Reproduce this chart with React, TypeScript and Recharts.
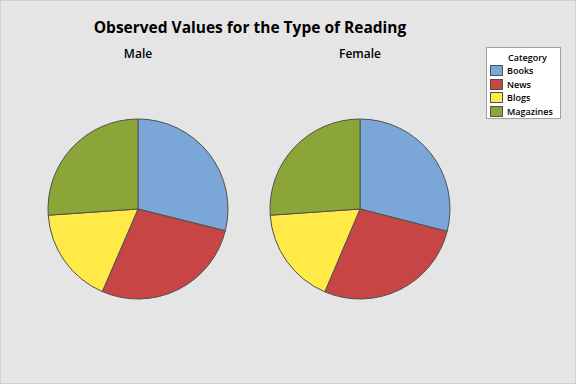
import { PieChart, Pie, Cell, Legend } from 'recharts'

const CATEGORIES = ['Books', 'News', 'Blogs', 'Magazines']
const MALE_VALUES = [28.9, 27.6, 17.4, 26.1]
const FEMALE_VALUES = [29.0, 27.4, 17.5, 26.1]
const COLORS = ['#7BA6D8', '#C84545', '#FFEA47', '#8BA539']

const maleData = CATEGORIES.map((name, i) => ({ name, value: MALE_VALUES[i] }))
const femaleData = CATEGORIES.map((name, i) => ({ name, value: FEMALE_VALUES[i] }))

const FONT = '"Segoe UI", "Open Sans", "Noto Sans", sans-serif'

function CategoryLegend() {
  return (
    <div
      style={{
        width: 75,
        height: 72,
        border: '1px solid #a0a0a0',
        background: '#ffffff',
        fontFamily: FONT,
        fontSize: 9,
        color: '#000',
        boxSizing: 'border-box',
        paddingTop: 3,
      }}
    >
      <div style={{ textAlign: 'center', paddingLeft: 8, lineHeight: '13px', fontWeight: 600 }}>Category</div>
      {CATEGORIES.map((c, i) => (
        <div key={c} style={{ display: 'flex', alignItems: 'center', height: 13.5, paddingLeft: 3 }}>
          <span
            style={{
              display: 'inline-block',
              width: 11,
              height: 9,
              background: COLORS[i],
              border: '1px solid #505050',
              marginRight: 4,
            }}
          />
          <span style={{ fontWeight: 600 }}>{c}</span>
        </div>
      ))}
    </div>
  )
}

export default function App() {
  return (
    <div
      style={{
        position: 'absolute',
        left: 0,
        top: 0,
        width: 576,
        height: 384,
        background: '#e5e5e5',
        boxSizing: 'border-box',
        border: '1px solid #d0d0d0',
        fontFamily: FONT,
      }}
    >
      <div
        style={{
          position: 'absolute',
          left: 0,
          width: 498,
          top: 15,
          textAlign: 'center',
          fontSize: 15.5,
          fontWeight: 700,
          color: '#000',
        }}
      >
        Observed Values for the Type of Reading
      </div>
      <div style={{ position: 'absolute', left: 87, width: 100, top: 44, textAlign: 'center', fontSize: 12, fontWeight: 600 }}>Male</div>
      <div style={{ position: 'absolute', left: 309, width: 100, top: 44, textAlign: 'center', fontSize: 12, fontWeight: 600 }}>Female</div>
      <div style={{ position: 'absolute', left: -1, top: -1 }}>
        <PieChart width={576} height={384} margin={{ top: 0, right: 0, bottom: 0, left: 0 }}>
          <Pie
            data={maleData}
            dataKey="value"
            nameKey="name"
            cx={138}
            cy={209}
            outerRadius={90}
            startAngle={90}
            endAngle={-270}
            stroke="#505050"
            strokeWidth={1}
            isAnimationActive={false}
          >
            {maleData.map((_, i) => (
              <Cell key={`m-${i}`} fill={COLORS[i]} />
            ))}
          </Pie>
          <Pie
            data={femaleData}
            dataKey="value"
            nameKey="name"
            cx={360}
            cy={209}
            outerRadius={90}
            startAngle={90}
            endAngle={-270}
            stroke="#505050"
            strokeWidth={1}
            isAnimationActive={false}
          >
            {femaleData.map((_, i) => (
              <Cell key={`f-${i}`} fill={COLORS[i]} />
            ))}
          </Pie>
          <Legend
            content={() => <CategoryLegend />}
            wrapperStyle={{ position: 'absolute', left: 486, top: 47, width: 75, height: 72 }}
          />
        </PieChart>
      </div>
    </div>
  )
}
